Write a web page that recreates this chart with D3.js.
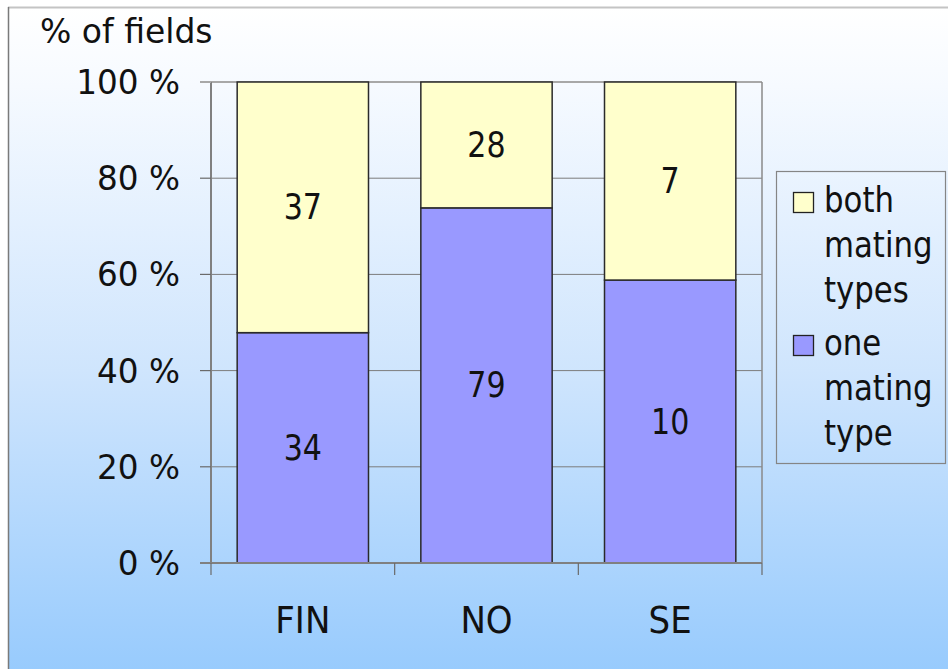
<!DOCTYPE html>
<html>
<head>
<meta charset="utf-8">
<script src="https://cdn.jsdelivr.net/npm/d3@7"></script>
<style>
  html, body { margin: 0; padding: 0; background: #ffffff; }
  svg { display: block; }
  text { font-family: "DejaVu Sans", Verdana, sans-serif; fill: #111; }
</style>
</head>
<body>
<svg id="chart" width="948" height="669"></svg>
<script>
// Countries sampled
const countries = ["FIN", "NO", "SE"];
// Field counts per country
const oneMatingType = [34, 79, 10];
const bothMatingTypes = [37, 28, 7];
// Series names, legend order top to bottom
const seriesNames = ["both\nmating\ntypes", "one\nmating\ntype"];
const seriesColors = ["#ffffcc", "#9999ff"];
// Y axis ticks (percent)
const yTicks = [0, 20, 40, 60, 80, 100];
const yTitle = "% of fields";

const svg = d3.select("#chart");
const W = 948, H = 669;

// Background panel with a soft white-to-blue gradient
const defs = svg.append("defs");
const grad = defs.append("linearGradient")
  .attr("id", "bg").attr("x1", 0).attr("y1", 0).attr("x2", 0).attr("y2", 1);
grad.append("stop").attr("offset", "0%").attr("stop-color", "#ffffff");
grad.append("stop").attr("offset", "12%").attr("stop-color", "#f6faff");
grad.append("stop").attr("offset", "55%").attr("stop-color", "#cfe5fd");
grad.append("stop").attr("offset", "100%").attr("stop-color", "#98cbfd");

svg.append("rect").attr("x", 8).attr("y", 7).attr("width", W - 8).attr("height", H - 7)
  .attr("fill", "url(#bg)");
svg.append("line").attr("x1", 8).attr("x2", W).attr("y1", 7.5).attr("y2", 7.5)
  .attr("stroke", "#c4c4c4").attr("stroke-width", 2);
svg.append("line").attr("x1", 8.5).attr("x2", 8.5).attr("y1", 7).attr("y2", H)
  .attr("stroke", "#7a7a7a").attr("stroke-width", 1.5);

// Plot area
const plot = { left: 211, right: 762, top: 82, bottom: 563 };

const x = d3.scaleBand()
  .domain(countries)
  .range([plot.left, plot.right])
  .paddingInner(0.285)
  .paddingOuter(0.1425);

const y = d3.scaleLinear().domain([0, 100]).range([plot.bottom, plot.top]);

// Stack as percentage shares
const rows = countries.map((c, i) => {
  const total = oneMatingType[i] + bothMatingTypes[i];
  return {
    country: c,
    one: oneMatingType[i] / total * 100,
    both: bothMatingTypes[i] / total * 100,
    oneN: oneMatingType[i],
    bothN: bothMatingTypes[i]
  };
});
const stack = d3.stack().keys(["one", "both"])(rows);

// Gridlines
svg.append("g").selectAll("line")
  .data(yTicks.filter(t => t > 0))
  .join("line")
  .attr("x1", plot.left).attr("x2", plot.right)
  .attr("y1", d => y(d)).attr("y2", d => y(d))
  .attr("stroke", d => d === 100 ? "#a8a8a8" : "#7c7c7c")
  .attr("stroke-width", d => d === 100 ? 2 : 1);

// Right edge of the plot frame
svg.append("line")
  .attr("x1", plot.right).attr("x2", plot.right)
  .attr("y1", plot.top).attr("y2", plot.bottom)
  .attr("stroke", "#8a8a8a").attr("stroke-width", 1.5);

// Bars
const segColors = { one: seriesColors[1], both: seriesColors[0] };
stack.forEach(layer => {
  svg.append("g").selectAll("rect")
    .data(layer)
    .join("rect")
    .attr("x", d => x(d.data.country))
    .attr("width", x.bandwidth())
    .attr("y", d => y(d[1]))
    .attr("height", d => y(d[0]) - y(d[1]))
    .attr("fill", segColors[layer.key])
    .attr("stroke", "#2a2a2a")
    .attr("stroke-width", 1.5);
});

// Helper: text with horizontal squeeze
function label(g, tx, ty, str, size, anchor, sx) {
  return g.append("text")
    .attr("transform", `translate(${tx},${ty}) scale(${sx},1)`)
    .attr("text-anchor", anchor)
    .attr("font-size", size)
    .text(str);
}

// Segment value labels
const valG = svg.append("g");
stack.forEach(layer => {
  layer.forEach(d => {
    const n = layer.key === "one" ? d.data.oneN : d.data.bothN;
    const cy = (y(d[0]) + y(d[1])) / 2;
    label(valG, x(d.data.country) + x.bandwidth() / 2, cy + 12, n, 35, "middle", 0.86);
  });
});

// Y axis
const axG = svg.append("g");
axG.append("line")
  .attr("x1", plot.left).attr("x2", plot.left)
  .attr("y1", plot.top).attr("y2", plot.bottom)
  .attr("stroke", "#808080").attr("stroke-width", 2);
axG.selectAll("line.tick").data(yTicks).join("line").attr("class", "tick")
  .attr("x1", plot.left - 11).attr("x2", plot.left)
  .attr("y1", d => y(d)).attr("y2", d => y(d))
  .attr("stroke", d => d === 100 ? "#a8a8a8" : "#6a6a6a")
  .attr("stroke-width", d => d === 100 ? 2 : 1.2);
yTicks.forEach(t => label(axG, 180, y(t) + 12, `${t} %`, 34, "end", 0.96));

// X axis
axG.append("line")
  .attr("x1", plot.left - 11).attr("x2", plot.right)
  .attr("y1", plot.bottom).attr("y2", plot.bottom)
  .attr("stroke", "#808080").attr("stroke-width", 2);
const step = x.step();
const tickXs = d3.range(countries.length + 1).map(i => plot.left + i * (plot.right - plot.left) / countries.length);
axG.selectAll("line.xtick").data(tickXs).join("line").attr("class", "xtick")
  .attr("x1", d => d).attr("x2", d => d)
  .attr("y1", plot.bottom).attr("y2", plot.bottom + 12)
  .attr("stroke", "#6a6a6a").attr("stroke-width", 1.2);
countries.forEach(c => label(axG, x(c) + x.bandwidth() / 2, 633, c, 37, "middle", 0.92));

// Axis title
label(svg, 40, 43, yTitle, 33, "start", 1.0);

// Legend
const lg = svg.append("g");
lg.append("rect").attr("x", 776.5).attr("y", 171.5).attr("width", 169).attr("height", 292)
  .attr("fill", "none").attr("stroke", "#858585").attr("stroke-width", 1.2);
const groupTop = [212, 355];
seriesNames.forEach((name, i) => {
  lg.append("rect")
    .attr("x", 793.5).attr("y", groupTop[i] - 19.5)
    .attr("width", 20).attr("height", 20)
    .attr("fill", seriesColors[i]).attr("stroke", "#222").attr("stroke-width", 1.3);
  name.split("\n").forEach((ln, j) => {
    label(lg, 824, groupTop[i] + j * 45, ln, 35, "start", 0.88);
  });
});
</script>
</body>
</html>
